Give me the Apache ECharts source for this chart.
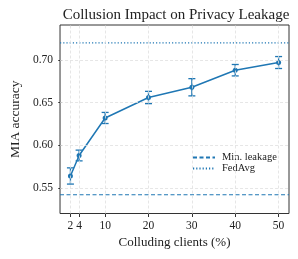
<!DOCTYPE html>
<html>
<head>
<meta charset="utf-8">
<script src="https://cdn.jsdelivr.net/npm/echarts@6/dist/echarts.min.js"></script>
<style>html,body{margin:0;padding:0;background:#fff}#c{width:298px;height:259px}</style>
</head>
<body>
<div id="c"></div>
<script>
const xValues = [2, 4, 10, 20, 30, 40, 50];
const miaAcc = [0.564, 0.588, 0.632, 0.656, 0.668, 0.688, 0.697];
const miaErr = [0.0095, 0.0063, 0.0065, 0.0072, 0.0101, 0.0067, 0.0070];
const minLeakage = 0.542;
const fedAvg = 0.720;
const xTicks = [2, 4, 10, 20, 30, 40, 50];
const yTicks = [0.55, 0.60, 0.65, 0.70];
const xRange = [-0.4, 52.4];
const yRange = [0.52, 0.741];

const blue = '#1f77b4';
const font = '"Liberation Serif", "Times New Roman", serif';
const chart = echarts.init(document.getElementById('c'), null, {renderer: 'canvas'});

const errData = xValues.map((x, i) => [x, miaAcc[i] - miaErr[i], miaAcc[i] + miaErr[i]]);
const lineData = xValues.map((x, i) => [x, miaAcc[i]]);

chart.setOption({
  animation: false,
  title: {
    text: 'Collusion Impact on Privacy Leakage',
    left: 171, top: 3, textAlign: 'center',
    textStyle: {fontFamily: font, fontSize: 15, fontWeight: 'normal', color: '#222'}
  },
  grid: {left: 53, top: 25, width: 236, height: 188.5, show: true, borderColor: '#333', borderWidth: 1, backgroundColor: 'transparent'},
  legend: {
    data: ['Min. leakage', 'FedAvg'],
    orient: 'vertical', left: 190, top: 151,
    itemWidth: 22, itemHeight: 6, itemGap: 0,
    backgroundColor: '#fff', padding: [1, 4, 1, 2],
    textStyle: {fontFamily: font, fontSize: 10.5, color: '#222', padding: [0, 0, 0, 2]}
  },
  xAxis: {
    type: 'value', min: xRange[0], max: xRange[1],
    name: 'Colluding clients (%)', nameLocation: 'middle', nameGap: 23,
    nameTextStyle: {fontFamily: font, fontSize: 13, color: '#222'},
    axisLine: {show: false},
    axisTick: {show: true, customValues: xTicks, length: 3.5, lineStyle: {color: '#333'}},
    axisLabel: {customValues: xTicks, fontFamily: font, fontSize: 11.5, color: '#222', margin: 6},
    splitLine: {show: false}
  },
  yAxis: {
    type: 'value', min: yRange[0], max: yRange[1],
    name: 'MIA accuracy', nameLocation: 'middle', nameGap: 33,
    nameTextStyle: {fontFamily: font, fontSize: 13.5, color: '#222'},
    axisLine: {show: false},
    axisTick: {show: true, customValues: yTicks, length: 3.5, lineStyle: {color: '#333'}},
    axisLabel: {customValues: yTicks, fontFamily: font, fontSize: 11.5, color: '#222', margin: 7,
      formatter: v => v.toFixed(2)},
    splitLine: {show: false}
  },
  series: [
    {
      name: 'grid', type: 'line', data: [], z: 0, silent: true,
      markLine: {
        silent: true, symbol: 'none', label: {show: false}, animation: false,
        lineStyle: {color: '#e0e0e0', type: [3, 2], width: 0.8},
        data: xTicks.map(v => ({xAxis: v})).concat(yTicks.map(v => ({yAxis: v})))
      }
    },
    {
      name: 'Min. leakage', type: 'line', symbol: 'none', z: 3,
      data: [[xRange[0], minLeakage], [xRange[1], minLeakage]],
      lineStyle: {color: blue, width: 1.2, type: [4, 2.5]}, itemStyle: {color: 'rgba(0,0,0,0)', borderWidth: 0}
    },
    {
      name: 'FedAvg', type: 'line', symbol: 'none', z: 3,
      data: [[xRange[0], fedAvg], [xRange[1], fedAvg]],
      lineStyle: {color: blue, width: 1.2, type: [1.2, 2]}, itemStyle: {color: 'rgba(0,0,0,0)', borderWidth: 0}
    },
    {
      name: 'MIA', type: 'line', data: lineData, z: 4,
      symbol: 'circle', symbolSize: 5,
      lineStyle: {color: blue, width: 1.5}, itemStyle: {color: blue}
    },
    {
      name: 'err', type: 'custom', data: errData, z: 4,
      renderItem: (params, api) => {
        const lo = api.coord([api.value(0), api.value(1)]);
        const hi = api.coord([api.value(0), api.value(2)]);
        const w = 3.5;
        const st = {stroke: blue, lineWidth: 1.3};
        return {type: 'group', children: [
          {type: 'line', shape: {x1: lo[0], y1: lo[1], x2: hi[0], y2: hi[1]}, style: st},
          {type: 'line', shape: {x1: lo[0] - w, y1: lo[1], x2: lo[0] + w, y2: lo[1]}, style: st},
          {type: 'line', shape: {x1: hi[0] - w, y1: hi[1], x2: hi[0] + w, y2: hi[1]}, style: st}
        ]};
      }
    }
  ]
});
</script>
</body>
</html>
